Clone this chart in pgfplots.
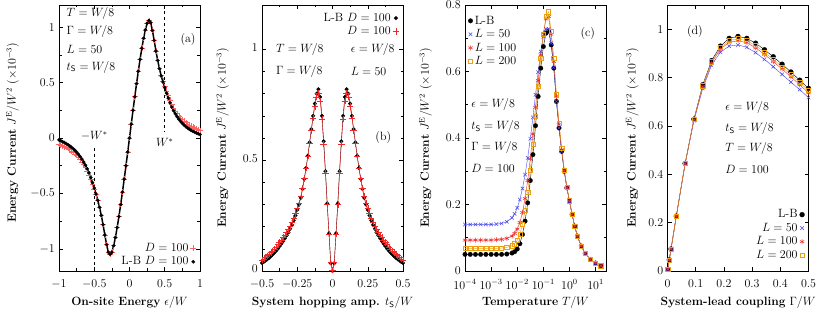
\documentclass[12pt,border=0pt]{standalone}
\usepackage{pgfplots}
\pgfplotsset{compat=1.18}
\usepackage{pgfplotstable}
\definecolor{cblue}{RGB}{70,70,235}
\definecolor{cred}{RGB}{240,40,40}
\definecolor{corange}{RGB}{235,160,20}
\definecolor{cpink}{RGB}{250,100,100}

\pgfplotstableread{
x lb d
-1.000 -0.017 -0.060
-0.975 -0.025 -0.066
-0.950 -0.033 -0.072
-0.925 -0.041 -0.079
-0.900 -0.050 -0.087
-0.875 -0.060 -0.096
-0.850 -0.071 -0.106
-0.825 -0.083 -0.117
-0.800 -0.096 -0.130
-0.775 -0.111 -0.144
-0.750 -0.128 -0.159
-0.725 -0.147 -0.176
-0.700 -0.168 -0.195
-0.675 -0.191 -0.217
-0.650 -0.217 -0.241
-0.625 -0.246 -0.268
-0.600 -0.278 -0.298
-0.575 -0.315 -0.333
-0.550 -0.357 -0.372
-0.525 -0.403 -0.415
-0.500 -0.452 -0.462
-0.475 -0.505 -0.512
-0.450 -0.562 -0.566
-0.425 -0.625 -0.625
-0.400 -0.698 -0.698
-0.375 -0.782 -0.782
-0.350 -0.875 -0.875
-0.325 -0.962 -0.962
-0.300 -1.030 -1.030
-0.275 -1.050 -1.050
-0.250 -1.030 -1.030
-0.225 -0.972 -0.972
-0.200 -0.898 -0.898
-0.175 -0.808 -0.808
-0.150 -0.708 -0.708
-0.125 -0.600 -0.600
-0.100 -0.488 -0.488
-0.075 -0.371 -0.371
-0.050 -0.250 -0.250
-0.025 -0.126 -0.126
0.000 0.000 0.000
0.025 0.125 0.125
0.050 0.250 0.250
0.075 0.372 0.372
0.100 0.490 0.490
0.125 0.602 0.602
0.150 0.710 0.710
0.175 0.810 0.810
0.200 0.900 0.900
0.225 0.975 0.975
0.250 1.035 1.035
0.275 1.060 1.060
0.300 1.040 1.040
0.325 0.970 0.970
0.350 0.880 0.880
0.375 0.785 0.785
0.400 0.700 0.700
0.425 0.625 0.627
0.450 0.560 0.565
0.475 0.505 0.513
0.500 0.455 0.466
0.525 0.405 0.422
0.550 0.360 0.381
0.575 0.318 0.341
0.600 0.280 0.303
0.625 0.247 0.272
0.650 0.218 0.245
0.675 0.192 0.222
0.700 0.170 0.200
0.725 0.150 0.182
0.750 0.132 0.166
0.775 0.116 0.152
0.800 0.102 0.139
0.825 0.090 0.127
0.850 0.079 0.116
0.875 0.069 0.106
0.900 0.060 0.097
0.925 0.052 0.089
0.950 0.045 0.081
0.975 0.038 0.074
1.000 0.032 0.068
}\tabA

\pgfplotstableread{
t lb d
-0.5000 0.036 0.049
-0.4875 0.041 0.055
-0.4750 0.047 0.062
-0.4625 0.053 0.069
-0.4500 0.059 0.076
-0.4375 0.066 0.083
-0.4250 0.074 0.091
-0.4125 0.082 0.100
-0.4000 0.091 0.109
-0.3875 0.101 0.119
-0.3750 0.112 0.129
-0.3625 0.123 0.140
-0.3500 0.135 0.151
-0.3375 0.147 0.162
-0.3250 0.160 0.174
-0.3125 0.174 0.188
-0.3000 0.190 0.203
-0.2875 0.208 0.220
-0.2750 0.228 0.238
-0.2625 0.250 0.259
-0.2500 0.275 0.282
-0.2375 0.300 0.305
-0.2250 0.330 0.337
-0.2125 0.370 0.375
-0.2000 0.415 0.418
-0.1875 0.465 0.465
-0.1750 0.520 0.518
-0.1625 0.580 0.576
-0.1500 0.640 0.633
-0.1375 0.700 0.690
-0.1250 0.755 0.742
-0.1125 0.800 0.785
-0.1000 0.820 0.800
-0.0875 0.785 0.768
-0.0750 0.700 0.685
-0.0625 0.585 0.573
-0.0500 0.450 0.442
-0.0375 0.305 0.300
-0.0250 0.170 0.168
-0.0125 0.035 0.040
0.0000 0.000 0.005
0.0125 0.035 0.040
0.0250 0.170 0.168
0.0375 0.305 0.300
0.0500 0.450 0.442
0.0625 0.585 0.573
0.0750 0.700 0.685
0.0875 0.785 0.768
0.1000 0.820 0.800
0.1125 0.800 0.785
0.1250 0.755 0.742
0.1375 0.700 0.690
0.1500 0.640 0.633
0.1625 0.580 0.576
0.1750 0.520 0.518
0.1875 0.465 0.465
0.2000 0.415 0.418
0.2125 0.370 0.375
0.2250 0.330 0.337
0.2375 0.300 0.305
0.2500 0.275 0.282
0.2625 0.250 0.259
0.2750 0.228 0.238
0.2875 0.208 0.220
0.3000 0.190 0.203
0.3125 0.174 0.188
0.3250 0.160 0.174
0.3375 0.147 0.162
0.3500 0.135 0.151
0.3625 0.123 0.140
0.3750 0.112 0.129
0.3875 0.101 0.119
0.4000 0.091 0.109
0.4125 0.082 0.100
0.4250 0.074 0.091
0.4375 0.066 0.083
0.4500 0.059 0.076
0.4625 0.053 0.069
0.4750 0.047 0.062
0.4875 0.041 0.055
0.5000 0.036 0.049
}\tabB

\pgfplotstableread{
T lb l50 l100 l200
1e-4 0.050 0.140 0.093 0.068
1.585e-4 0.050 0.140 0.093 0.068
2.512e-4 0.050 0.140 0.093 0.068
3.981e-4 0.050 0.140 0.093 0.068
6.310e-4 0.050 0.140 0.093 0.068
1e-3 0.050 0.140 0.093 0.068
1.585e-3 0.050 0.141 0.094 0.068
2.512e-3 0.050 0.143 0.095 0.069
3.981e-3 0.051 0.148 0.098 0.071
6.310e-3 0.054 0.160 0.105 0.076
7.943e-3 0.058 0.172 0.113 0.082
0.01 0.066 0.190 0.126 0.092
0.01259 0.082 0.215 0.146 0.110
0.01585 0.110 0.248 0.176 0.140
0.01995 0.150 0.290 0.218 0.182
0.02512 0.205 0.340 0.272 0.237
0.03162 0.272 0.398 0.338 0.304
0.03981 0.350 0.462 0.412 0.382
0.05012 0.437 0.530 0.492 0.466
0.06310 0.525 0.598 0.573 0.555
0.07943 0.610 0.660 0.650 0.640
0.1 0.675 0.705 0.715 0.712
0.1259 0.715 0.728 0.758 0.765
0.1585 0.722 0.728 0.765 0.780
0.1995 0.680 0.685 0.712 0.722
0.2512 0.610 0.612 0.630 0.640
0.3162 0.510 0.510 0.525 0.530
0.3981 0.430 0.430 0.440 0.445
0.5012 0.360 0.360 0.365 0.370
0.6310 0.300 0.300 0.302 0.304
0.7943 0.250 0.250 0.251 0.252
1 0.210 0.210 0.210 0.211
1.259 0.170 0.170 0.170 0.170
1.585 0.135 0.135 0.135 0.135
1.995 0.105 0.105 0.105 0.105
2.818 0.075 0.075 0.075 0.075
3.981 0.053 0.053 0.053 0.053
6.310 0.035 0.035 0.035 0.035
10 0.024 0.024 0.024 0.024
15.85 0.016 0.016 0.016 0.016
}\tabC

\pgfplotstableread{
G lb l50 l100 l200
0.001 0.007 0.007 0.007 0.007
0.00625 0.046 0.046 0.046 0.046
0.0125 0.091 0.091 0.091 0.091
0.03125 0.227 0.227 0.227 0.227
0.0625 0.445 0.443 0.444 0.445
0.09375 0.628 0.622 0.626 0.627
0.125 0.770 0.755 0.763 0.766
0.15625 0.870 0.850 0.860 0.865
0.1875 0.930 0.905 0.918 0.924
0.21875 0.962 0.930 0.946 0.953
0.25 0.970 0.935 0.952 0.960
0.28125 0.962 0.925 0.944 0.952
0.3125 0.942 0.903 0.923 0.932
0.34375 0.915 0.875 0.896 0.905
0.375 0.886 0.845 0.866 0.875
0.40625 0.855 0.813 0.835 0.844
0.4375 0.823 0.781 0.803 0.812
0.46875 0.789 0.750 0.770 0.779
0.5 0.755 0.717 0.737 0.746
}\tabD

\pgfplotsset{
  panel/.style={
    scale only axis, width=141pt, height=266pt, anchor=south west,
    axis line style={line width=0.9pt},
    tick style={black, line width=0.5pt},
    major tick length=4pt, minor tick length=2.5pt,
    xticklabel style={inner sep=1pt, yshift=-7.5pt},
    yticklabel style={inner sep=1pt, xshift=-3pt},
    legend style={draw=none, fill=none, row sep=-0.5pt},
    legend image code/.code={\draw[#1, only marks] plot coordinates {(0.25cm,0cm)};},
    xlabel style={at={(axis description cs:0.5,-0.118)}, anchor=center},
    ylabel style={anchor=center},
    ylabel={\textbf{Energy Current} $J^{\mathrm{E}}/W^2$ ($\times 10^{-3}$)},
  },
}

\begin{document}
\begin{tikzpicture}
\useasboundingbox (0,0) rectangle (830pt,312pt);

% ---------- (a)
\begin{axis}[panel, at={(59pt,41pt)},
  xmin=-1, xmax=1, ymin=-1.2, ymax=1.2,
  xtick={-1,-0.5,0,0.5,1}, ytick={-1,-0.5,0,0.5,1},
  minor x tick num=1, minor y tick num=1,
  xlabel={\textbf{On-site Energy} $\epsilon/W$},
  ylabel style={at={(axis description cs:-0.33,0.52)}},
  legend cell align=right, legend plot pos=right,
  legend style={at={(0.995,0.0)}, anchor=south east}]
\addplot[cpink, only marks, mark=+, mark size=2.8pt, mark options={line width=0.6pt}] table[x=x,y=d] {\tabA};
\addlegendentry{$D=100$}
\addplot[black, line width=1.5pt, mark=*, mark size=1.7pt, mark options={line width=0.2pt}] table[x=x,y=lb] {\tabA};
\addlegendentry{L-B $D=100$}
\addplot[black, dashed, line width=0.5pt, forget plot] coordinates {(-0.5,-1.2) (-0.5,-0.08)};
\addplot[black, dashed, line width=0.5pt, forget plot] coordinates {(0.5,1.2) (0.5,0.06)};
\node at (axis cs:-0.5,0.02) {$-W^{*}$};
\node at (axis cs:0.5,-0.04) {$W^{*}$};
\node[anchor=west] at (axis cs:-0.95,1.12) {$T=W/8$};
\node[anchor=west] at (axis cs:-0.95,0.96) {$\Gamma=W/8$};
\node[anchor=west] at (axis cs:-0.95,0.80) {$L=50$};
\node[anchor=west] at (axis cs:-0.95,0.64) {$t_{\mathsf{S}}=W/8$};
\node at (axis cs:0.83,0.89) {(a)};
\end{axis}

% ---------- (b)
\begin{axis}[panel, at={(262pt,41pt)},
  xmin=-0.5, xmax=0.5, ymin=0, ymax=1.2,
  xtick={-0.5,-0.25,0,0.25,0.5}, ytick={0,0.5,1},
  minor x tick num=1, minor y tick num=4,
  yticklabel style={yshift=2pt},
  xlabel={\textbf{System hopping amp.} $t_{\mathsf{S}}/W$},
  ylabel style={at={(axis description cs:-0.28,0.5)}},
  legend cell align=right, legend plot pos=right,
  legend style={at={(0.995,0.985)}, anchor=north east}]
\addplot[black, line width=0.4pt, mark=*, mark size=1.9pt, mark options={line width=0.2pt}] table[x=t,y=lb] {\tabB};
\addlegendentry{L-B $D=100$}
\addplot[cred, line width=0.4pt, mark=+, mark size=3.2pt, mark options={line width=0.5pt}] table[x=t,y=d] {\tabB};
\addlegendentry{$D=100$}
\node[anchor=west] at (axis cs:-0.43,1.0) {$T=W/8$};
\node[anchor=west] at (axis cs:-0.43,0.9) {$\Gamma=W/8$};
\node[anchor=west] at (axis cs:0.1,1.0) {$\epsilon=W/8$};
\node[anchor=west] at (axis cs:0.1,0.9) {$L=50$};
\node at (axis cs:0.36,0.6) {(b)};
\end{axis}

% ---------- (c)
\begin{axis}[panel, at={(465pt,41pt)},
  xmode=log, xmin=1e-4, xmax=25, ymin=0, ymax=0.8,
  xtick={1e-4,1e-3,1e-2,1e-1,1,10}, xminorticks=false,
  ytick={0,0.2,0.4,0.6,0.8}, minor y tick num=1,
  xlabel={\textbf{Temperature} $T/W$},
  ylabel style={at={(axis description cs:-0.28,0.5)}},
  legend cell align=left,
  legend style={at={(0.0,0.975)}, anchor=north west}]
\addplot[black, line width=0.4pt, mark=*, mark size=2.3pt, mark options={line width=0.2pt}] table[x=T,y=lb] {\tabC};
\addlegendentry{L-B}
\addplot[cblue, line width=0.4pt, mark=x, mark size=2.5pt, mark options={line width=0.5pt}] table[x=T,y=l50] {\tabC};
\addlegendentry{$L=50$}
\addplot[cred, line width=0.4pt, mark=asterisk, mark size=2.5pt, mark options={line width=0.5pt}] table[x=T,y=l100] {\tabC};
\addlegendentry{$L=100$}
\addplot[corange, line width=0.4pt, mark=square, mark size=2.1pt, mark options={line width=0.5pt}] table[x=T,y=l200] {\tabC};
\addlegendentry{$L=200$}
\node[anchor=west] at (axis cs:1.2e-4,0.50) {$\epsilon=W/8$};
\node[anchor=west] at (axis cs:1.2e-4,0.435) {$t_{\mathsf{S}}=W/8$};
\node[anchor=west] at (axis cs:1.2e-4,0.37) {$\Gamma=W/8$};
\node[anchor=west] at (axis cs:1.2e-4,0.31) {$D=100$};
\node at (axis cs:5,0.715) {(c)};
\end{axis}

% ---------- (d)
\begin{axis}[panel, at={(667.5pt,41pt)},
  xmin=0, xmax=0.5, ymin=0, ymax=1.1,
  xtick={0,0.1,0.2,0.3,0.4,0.5}, ytick={0,0.2,0.4,0.6,0.8,1},
  xlabel={\textbf{System-lead coupling} $\Gamma/W$},
  ylabel style={at={(axis description cs:-0.25,0.5)}},
  legend cell align=right, legend plot pos=right,
  legend style={at={(0.995,0.025)}, anchor=south east}]
\addplot[black, line width=0.4pt, mark=*, mark size=2.5pt, mark options={line width=0.2pt}] table[x=G,y=lb] {\tabD};
\addlegendentry{L-B}
\addplot[cblue, line width=0.4pt, mark=x, mark size=2.5pt, mark options={line width=0.5pt}] table[x=G,y=l50] {\tabD};
\addlegendentry{$L=50$}
\addplot[cred, line width=0.4pt, mark=asterisk, mark size=2.5pt, mark options={line width=0.5pt}] table[x=G,y=l100] {\tabD};
\addlegendentry{$L=100$}
\addplot[corange, line width=0.4pt, mark=square, mark size=2.1pt, mark options={line width=0.5pt}] table[x=G,y=l200] {\tabD};
\addlegendentry{$L=200$}
\node[anchor=west] at (axis cs:0.19,0.675) {$\epsilon=W/8$};
\node[anchor=west] at (axis cs:0.19,0.59) {$t_{\mathsf{S}}=W/8$};
\node[anchor=west] at (axis cs:0.19,0.505) {$T=W/8$};
\node[anchor=west] at (axis cs:0.19,0.42) {$D=100$};
\node at (axis cs:0.097,0.99) {(d)};
\end{axis}
\end{tikzpicture}
\end{document}
